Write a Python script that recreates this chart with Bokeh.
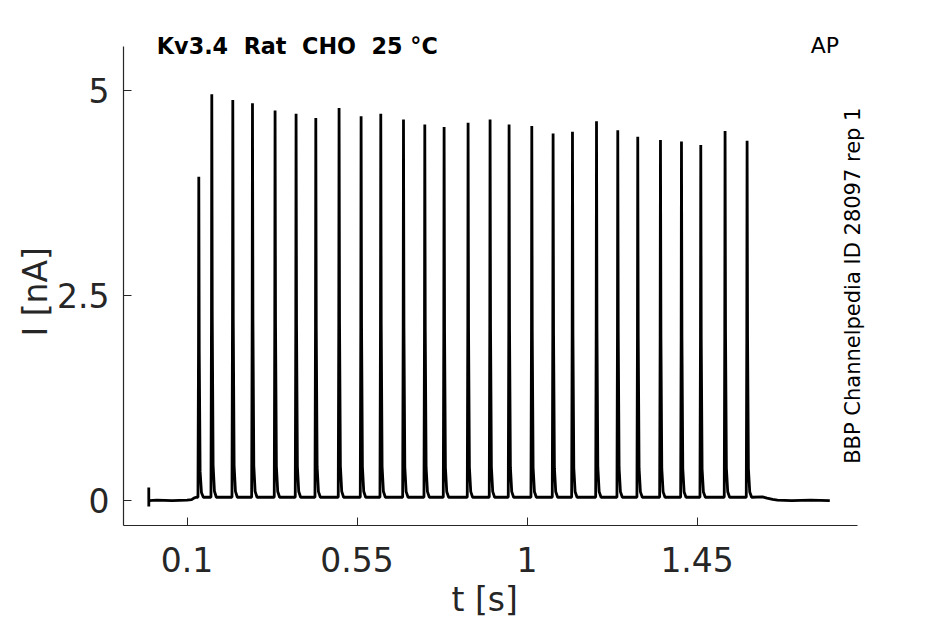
import numpy as np
from bokeh.plotting import figure
from bokeh.models import Range1d, FixedTicker, Label, Title
from bokeh.embed import file_html
from bokeh.resources import INLINE

# ---- data ----
spike_t = [0.131, 0.1654, 0.221, 0.2731, 0.3329, 0.3885, 0.4407, 0.5023, 0.5606,
           0.6127, 0.6728, 0.7292, 0.7803, 0.8438, 0.9020, 0.9523, 1.0124, 1.0688,
           1.1201, 1.1837, 1.2400, 1.2929, 1.3530, 1.4086, 1.4597, 1.5240, 1.5823]
spike_peak = [3.95, 4.96, 4.89, 4.85, 4.76, 4.72, 4.67, 4.79, 4.69, 4.72, 4.65,
              4.59, 4.56, 4.61, 4.65, 4.59, 4.57, 4.48, 4.50, 4.63, 4.52, 4.44,
              4.40, 4.38, 4.34, 4.51, 4.39]
# baseline before the train (start blip included)
pre_t = [-0.0014, -0.0013, -0.0012, -0.0005, 0.02, 0.06, 0.10, 0.112, 0.118, 0.124]
pre_i = [0.154, -0.078, 0.0, -0.005, 0.0, -0.005, 0.0, 0.005, 0.025, 0.035]
train_base = 0.035
# baseline after the train
post_t = [1.595, 1.623, 1.635, 1.650, 1.6627, 1.70, 1.75, 1.8012]
post_i = [0.035, 0.04, 0.025, 0.01, 0.0, -0.005, 0.0, -0.005]

x_ticks = [0.1, 0.55, 1, 1.45]
x_tick_labels = ["0.1", "0.55", "1", "1.45"]
y_ticks = [0, 2.5, 5]
y_tick_labels = ["0", "2.5", "5"]

title_text = "Kv3.4 \u00a0Rat \u00a0CHO \u00a025 °C"
corner_text = "AP"
side_text = "BBP Channelpedia ID 28097 rep 1"
x_label = "t [s]"
y_label = "I [nA]"

# axis extents (data limits of the axes box)
x_lim = (-0.0683, 1.8746)
y_lim = (-0.310, 5.538)

# ---- build trace from the read values ----
shape = [(-0.0022, 0.0), (-0.0008, 0.45), (0.0, 1.0), (0.0012, 0.45),
         (0.0035, 0.08), (0.007, 0.015), (0.012, 0.0)]
tt = list(pre_t)
ii = list(pre_i)
for t0, pk in zip(spike_t, spike_peak):
    for dt, frac in shape:
        tt.append(t0 + dt)
        ii.append(train_base + frac * (pk - train_base))
tt += post_t
ii += post_i

FW, FH = 750, 501
p = figure(frame_width=FW, frame_height=FH, output_backend="svg",
           toolbar_location=None,
           x_range=Range1d(x_lim[0], x_lim[0] + FW / 377.8),
           y_range=Range1d(y_lim[0], y_lim[0] + FH / 81.85),
           min_border_left=123, min_border_right=50, min_border_top=24,
           min_border_bottom=95)
p.outline_line_color = None
p.xgrid.visible = False
p.ygrid.visible = False
p.background_fill_color = "white"

p.line(tt, ii, line_color="black", line_width=2.8)

ax_col = "#262626"
for ax, ticks, labels, lim in ((p.xaxis[0], x_ticks, x_tick_labels, x_lim),
                               (p.yaxis[0], y_ticks, y_tick_labels, y_lim)):
    ax.ticker = FixedTicker(ticks=ticks)
    ax.bounds = lim
    ax.major_label_overrides = {float(k): v for k, v in zip(ticks, labels)}
    ax.axis_line_color = ax_col
    ax.axis_line_width = 1.2
    ax.major_tick_line_color = ax_col
    ax.major_tick_in = 8
    ax.major_tick_out = 0
    ax.minor_tick_line_color = None
    ax.major_label_text_font = "DejaVu Sans"
    ax.major_label_text_font_size = "33px"
    ax.major_label_text_color = ax_col

p.xaxis.major_label_standoff = 21
p.yaxis.major_label_standoff = 14

# axis titles, positioned on the axes box rather than on the (larger) frame
p.add_layout(Title(text=y_label, align="left", offset=189, standoff=0,
                   text_font="DejaVu Sans", text_font_size="33px",
                   text_font_style="normal", text_color=ax_col), "left")
p.add_layout(Title(text=x_label, align="left", offset=328, standoff=6,
                   text_font="DejaVu Sans", text_font_size="33px",
                   text_font_style="normal", text_color=ax_col), "below")

p.add_layout(Label(x=0.0199, y=5.550, text=title_text, text_font="DejaVu Sans",
                   text_font_style="bold", text_font_size="22.3px", text_color="black",
                   text_align="left", text_baseline="alphabetic"))
p.add_layout(Label(x=1.7509, y=5.550, text=corner_text, text_font="DejaVu Sans",
                   text_font_size="22px", text_color="black",
                   text_align="left", text_baseline="alphabetic"))
p.add_layout(Label(x=1.8629, y=2.62, text=side_text, text_font="DejaVu Sans",
                   text_font_size="21px", text_color="black", angle=np.pi / 2,
                   text_align="center", text_baseline="alphabetic"))

open("out.html", "w").write(file_html(p, INLINE))
